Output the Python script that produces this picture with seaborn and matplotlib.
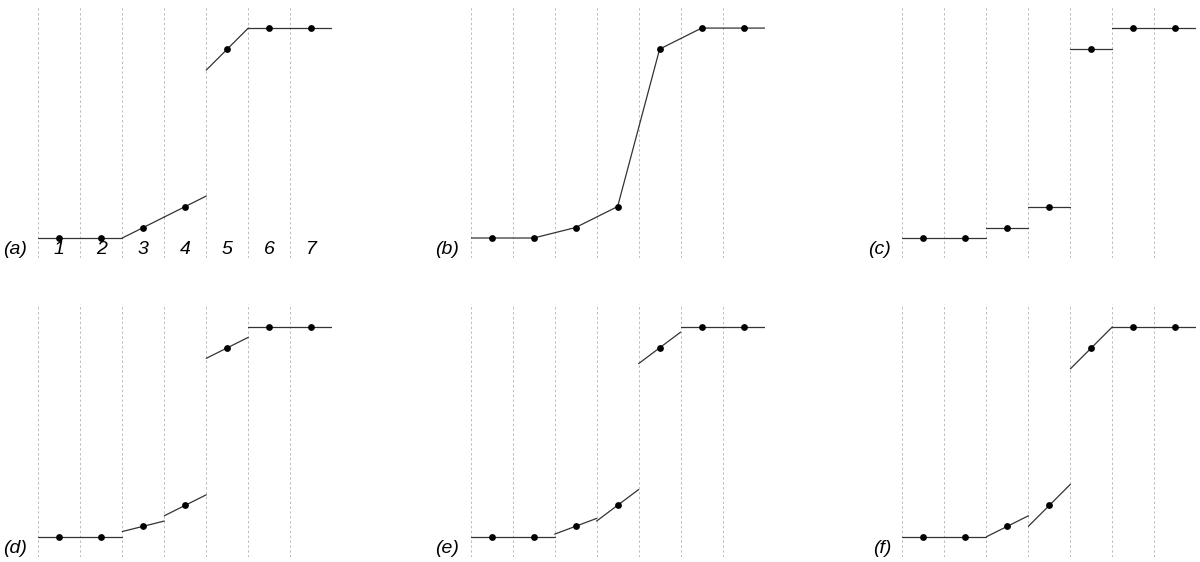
# Slope-limited reconstructions of the same cell averages, six panels
import numpy as np
import pandas as pd
import matplotlib.pyplot as plt
import seaborn as sns

# cell averages for the 7 cells
cell_values = [0.0, 0.0, 0.05, 0.15, 0.9, 1.0, 1.0]
cell_numbers = ["1", "2", "3", "4", "5", "6", "7"]
panel_labels = ["(a)", "(b)", "(c)", "(d)", "(e)", "(f)"]

# slope of the reconstruction in each cell (per cell width)
slopes_a = [0.0, 0.0, 0.1, 0.1, 0.2, 0.0, 0.0]
slopes_c = [0.0, 0.0, 0.0, 0.0, 0.0, 0.0, 0.0]
slopes_d = [0.0, 0.0, 0.05, 0.1, 0.1, 0.0, 0.0]
slopes_e = [0.0, 0.0, 0.075, 0.15, 0.15, 0.0, 0.0]
slopes_f = [0.0, 0.0, 0.1, 0.2, 0.2, 0.0, 0.0]
# panel (b) is the polyline through the cell centres

sns.set_style("white")
plt.rcParams['font.family'] = ['Liberation Sans', 'DejaVu Sans']

n = len(cell_values)
centres = np.arange(n) + 0.5


def piecewise(slopes):
    rows = []
    for i, (q, s) in enumerate(zip(cell_values, slopes)):
        rows.append({"x": i, "y": q - s / 2, "seg": i})
        rows.append({"x": i + 1, "y": q + s / 2, "seg": i})
    return pd.DataFrame(rows)


def polyline():
    xs = [0.0] + list(centres) + [float(n)]
    ys = [cell_values[0]] + list(cell_values) + [cell_values[-1]]
    return pd.DataFrame({"x": xs, "y": ys, "seg": 0})


panels = [piecewise(slopes_a), polyline(), piecewise(slopes_c),
          piecewise(slopes_d), piecewise(slopes_e), piecewise(slopes_f)]

points = pd.DataFrame({"x": centres, "y": cell_values})

fig = plt.figure(figsize=(12, 5.62), dpi=100)
lefts = [0.0319, 0.3922, 0.752]
bottoms = [0.541, 0.0094]

for k, seg_df in enumerate(panels):
    row, col = divmod(k, 3)
    ax = fig.add_axes([lefts[col], bottoms[row], 0.245, 0.449])

    ax.set_xticks(range(n + 1))
    ax.grid(axis='x', color='#bcbcbc', linestyle=(0, (2.5, 2.5)), linewidth=0.7)
    ax.grid(axis='y', visible=False)

    sns.lineplot(data=seg_df, x="x", y="y", units="seg", estimator=None,
                 color='#333333', linewidth=0.9, ax=ax)
    sns.scatterplot(data=points, x="x", y="y", color='black', s=24,
                    edgecolor='black', linewidth=0, zorder=5, ax=ax)

    ax.set_xlim(0, n)
    ax.set_ylim(-0.095, 1.107)
    ax.set_xlabel("")
    ax.set_ylabel("")
    ax.tick_params(length=0, labelbottom=False, labelleft=False)
    for sp in ax.spines.values():
        sp.set_visible(False)

    ax.text(-0.27, -0.056, panel_labels[k], ha='right', va='center',
            fontsize=14, style='italic', color='black', clip_on=False)
    if k == 0:
        for c, lab in zip(centres, cell_numbers):
            ax.text(c, -0.056, lab, ha='center', va='center',
                    fontsize=14, style='italic', color='black')

plt.savefig("out.png", dpi=100)
